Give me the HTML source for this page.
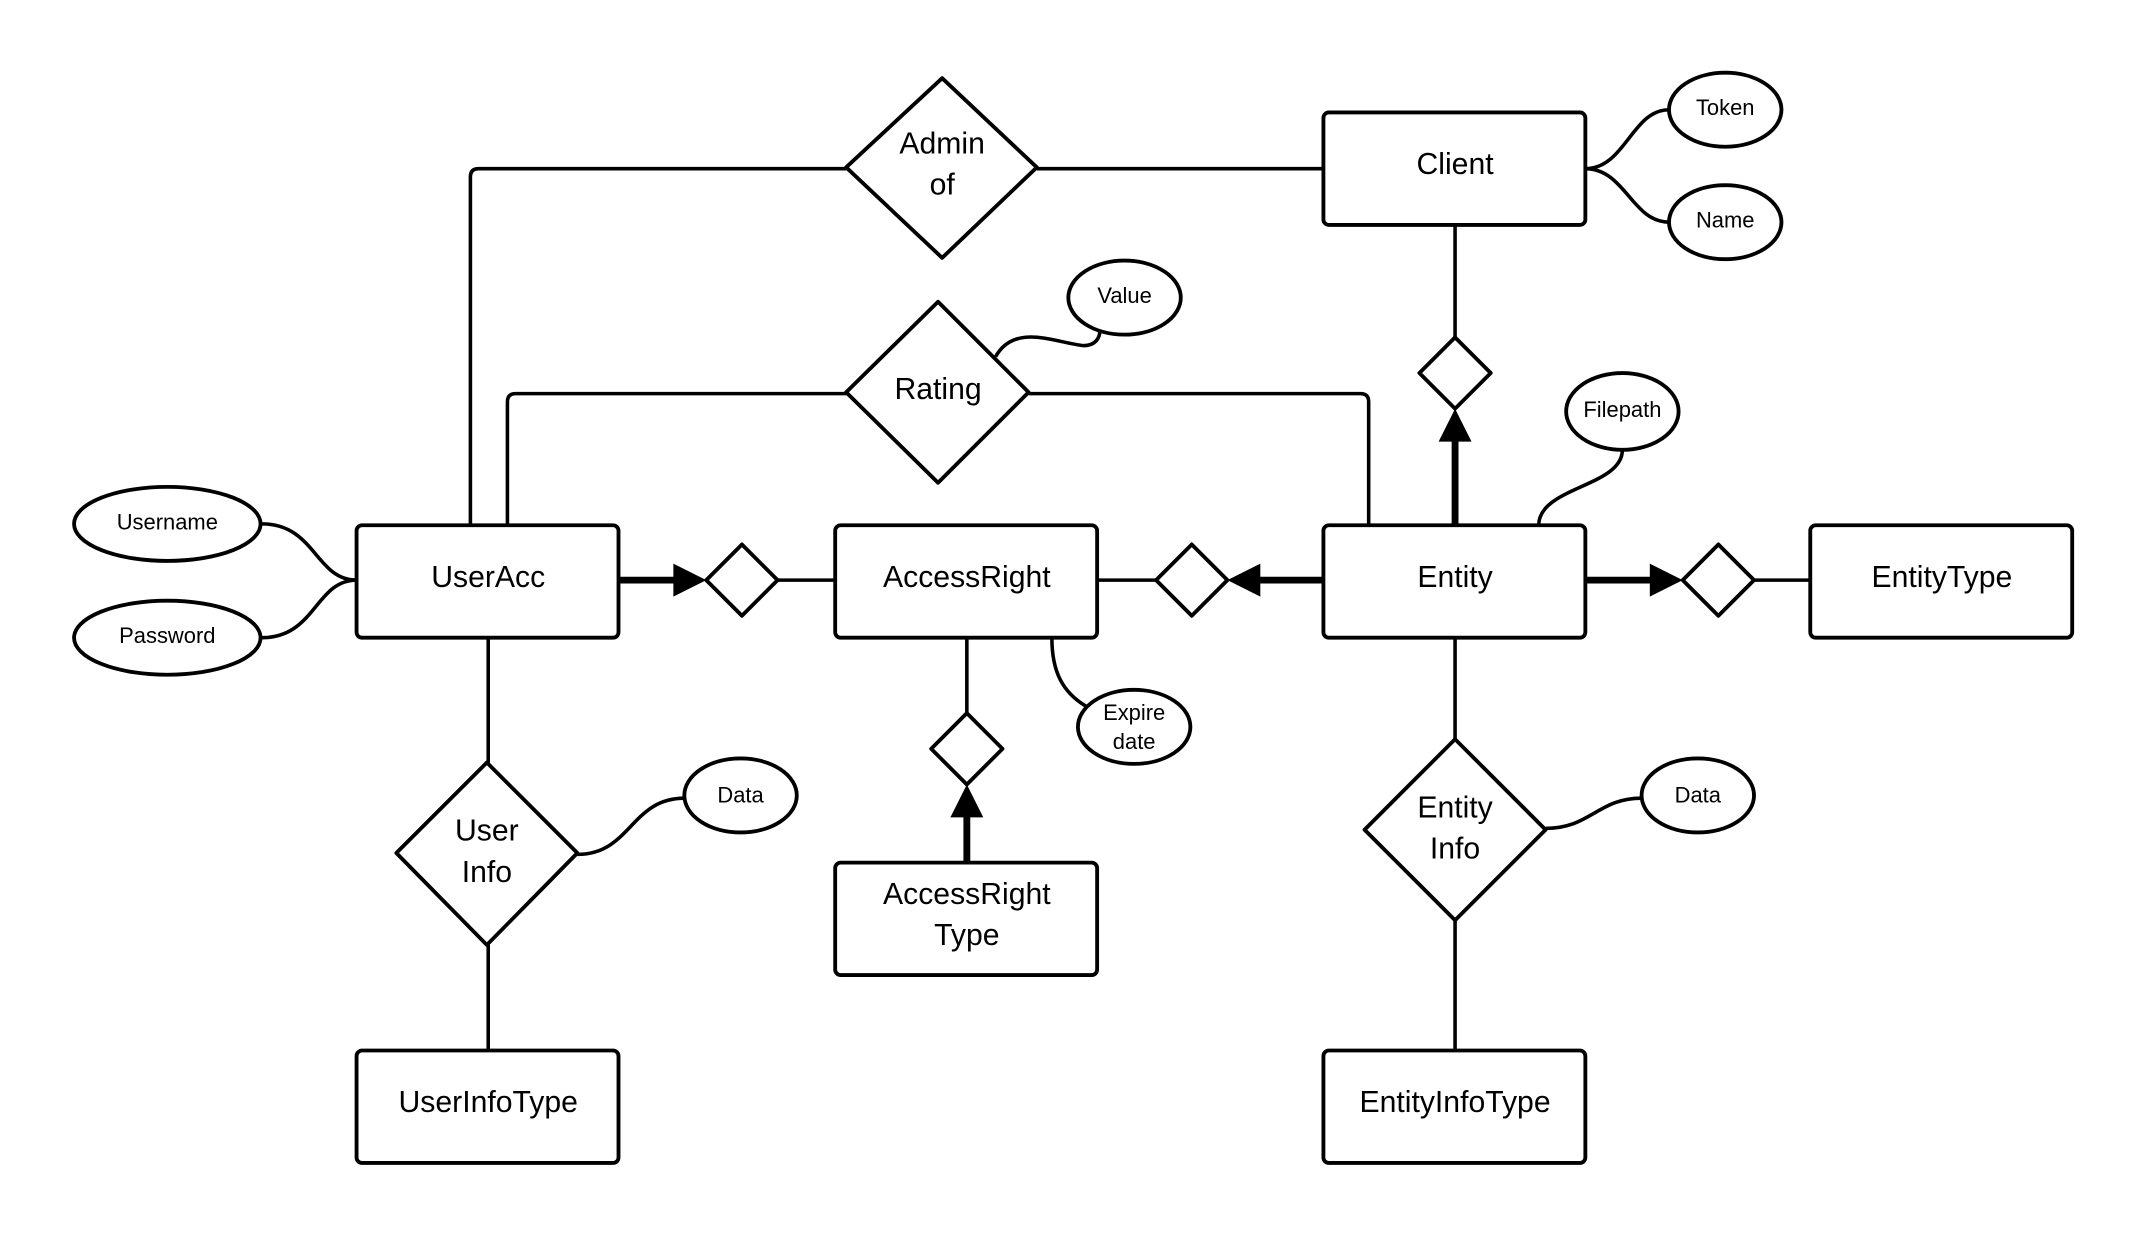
<!DOCTYPE html>
<html><head><meta charset="utf-8"><style>html,body{margin:0;padding:0;background:#fff}svg{display:block}</style></head>
<body>
<svg width="2149" height="1238" viewBox="0 0 1567 902.7" xmlns="http://www.w3.org/2000/svg" font-family="Liberation Sans, sans-serif">
<g fill="none" stroke="#000" stroke-width="2.6" stroke-linejoin="round">
<path d="M343,383 V129 Q343,123 349,123 H617"/>
<path d="M756,123 H965"/>
<path d="M370,383 V293 Q370,287 376,287 H617"/>
<path d="M750,287 H992 Q998,287 998,293 V383"/>
<path d="M567,423 H609"/>
<path d="M800,423 H843"/>
<path d="M1279,423 H1320"/>
<path d="M1061,164 V246"/>
<path d="M705,465 V520"/>
<path d="M356,465 V556 M356,689 V766"/>
<path d="M1061,465 V539 M1061,671 V766"/>
<path d="M191,382 C230,382 230,423 260,423"/>
<path d="M191,465 C230,465 230,423 260,423"/>
<path d="M1156,123 C1185,123 1190,80 1217,80"/>
<path d="M1156,123 C1185,123 1190,162 1217,162"/>
<path d="M726,260 C740,235 770,250 790,252 C800,252 802,245 802,241"/>
<path d="M1183,328 C1183,355 1122,355 1122,383"/>
<path d="M767,465 C767,490 775,505 792,515"/>
<path d="M421,623 C460,623 460,582 499,582"/>
<path d="M1127,604 C1160,604 1165,582 1197,582"/>
</g>
<g stroke="#000" stroke-width="5" fill="none">
<path d="M451,423 H495"/>
<path d="M965,423 H915"/>
<path d="M1156,423 H1207"/>
<path d="M1061,383 V318"/>
<path d="M705,629 V592"/>
</g>
<g fill="#000">
<polygon points="515,423 491,411 491,435"/>
<polygon points="895,423 919,411 919,435"/>
<polygon points="1227,423 1203,411 1203,435"/>
<polygon points="1061,298 1049,322 1073,322"/>
<polygon points="705,572 693,596 717,596"/>
</g>
<g fill="#fff" stroke="#000" stroke-width="2.8">
<rect x="260" y="383" width="191" height="82" rx="4"/>
<rect x="609" y="383" width="191" height="82" rx="4"/>
<rect x="965" y="383" width="191" height="82" rx="4"/>
<rect x="1320" y="383" width="191" height="82" rx="4"/>
<rect x="965" y="82" width="191" height="82" rx="4"/>
<rect x="609" y="629" width="191" height="82" rx="4"/>
<rect x="260" y="766" width="191" height="82" rx="4"/>
<rect x="965" y="766" width="191" height="82" rx="4"/>
<polygon points="687,57 756,122 687,188 617,122" stroke-linejoin="round"/>
<polygon points="684,220 750,286 684,352 617,286" stroke-linejoin="round"/>
<polygon points="355,556 421,622 355,689 289,622" stroke-linejoin="round"/>
<polygon points="1061,539 1127,605 1061,671 995,605" stroke-linejoin="round"/>
<polygon points="541,397 567,423 541,449 515,423" stroke-linejoin="round"/>
<polygon points="869,397 895,423 869,449 843,423" stroke-linejoin="round"/>
<polygon points="1253,397 1279,423 1253,449 1227,423" stroke-linejoin="round"/>
<polygon points="1061,246 1087,272 1061,298 1035,272" stroke-linejoin="round"/>
<polygon points="705,520 731,546 705,572 679,546" stroke-linejoin="round"/>
<ellipse cx="122" cy="382" rx="68" ry="27"/>
<ellipse cx="122" cy="465" rx="68" ry="27"/>
<ellipse cx="1258" cy="80" rx="41" ry="27"/>
<ellipse cx="1258" cy="162" rx="41" ry="27"/>
<ellipse cx="820" cy="217" rx="41" ry="27"/>
<ellipse cx="1183" cy="300" rx="41" ry="28"/>
<ellipse cx="827" cy="530" rx="41" ry="27"/>
<ellipse cx="540" cy="580" rx="41" ry="27"/>
<ellipse cx="1238" cy="580" rx="41" ry="27"/>
</g>
<g font-size="22" text-anchor="middle" fill="#000">
<text x="356" y="428">UserAcc</text>
<text x="705" y="428">AccessRight</text>
<text x="1061" y="428">Entity</text>
<text x="1416" y="428">EntityType</text>
<text x="1061" y="127">Client</text>
<text x="705" y="659">AccessRight</text>
<text x="705" y="689">Type</text>
<text x="356" y="811">UserInfoType</text>
<text x="1061" y="811">EntityInfoType</text>
<text x="687" y="112">Admin</text>
<text x="687" y="142">of</text>
<text x="684" y="291">Rating</text>
<text x="355" y="613">User</text>
<text x="355" y="643">Info</text>
<text x="1061" y="596">Entity</text>
<text x="1061" y="626">Info</text>
</g>
<g font-size="16" text-anchor="middle" fill="#000">
<text x="122" y="386">Username</text>
<text x="122" y="469">Password</text>
<text x="1258" y="84">Token</text>
<text x="1258" y="166">Name</text>
<text x="820" y="221">Value</text>
<text x="1183" y="304">Filepath</text>
<text x="827" y="525">Expire</text>
<text x="827" y="546">date</text>
<text x="540" y="585">Data</text>
<text x="1238" y="585">Data</text>
</g>
</svg>
</body></html>
